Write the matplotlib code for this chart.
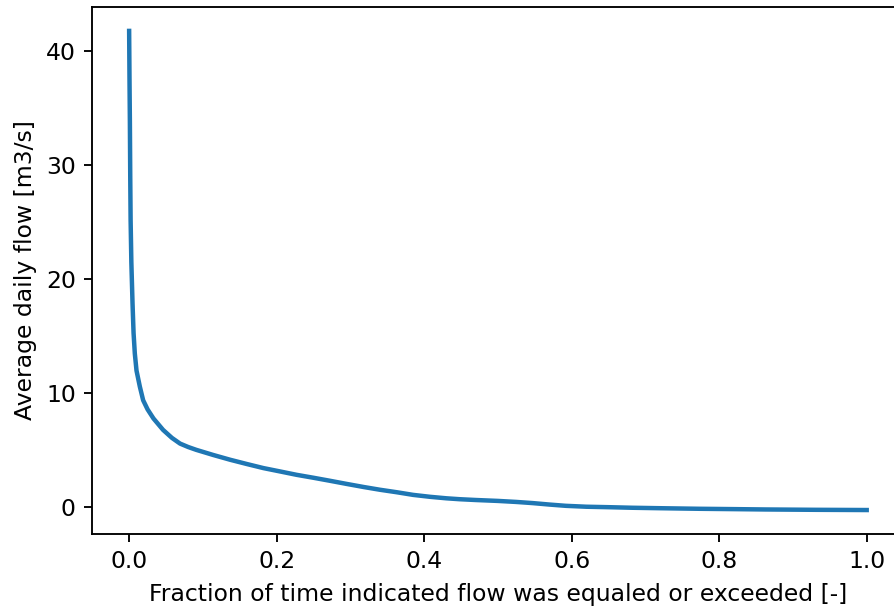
import numpy as np
import matplotlib
matplotlib.use("Agg")
import matplotlib.pyplot as plt

# flow duration curve: exceedance fraction vs average daily flow
exceedance = [0.0, 0.0005, 0.001, 0.0015, 0.002, 0.003, 0.0046, 0.006, 0.0077,
              0.010, 0.0145, 0.019, 0.025, 0.033, 0.046, 0.058, 0.069, 0.080,
              0.091, 0.114, 0.137, 0.16, 0.182, 0.205, 0.227, 0.25, 0.272,
              0.295, 0.318, 0.34, 0.363, 0.385, 0.408, 0.43, 0.448, 0.47, 0.50,
              0.525, 0.547, 0.57, 0.592, 0.62, 0.65, 0.682, 0.72, 0.773, 0.82,
              0.863, 0.93, 1.0]
flow = [41.8, 37.5, 33.9, 29.0, 25.2, 21.5, 17.9, 15.3, 13.5,
        12.0, 10.6, 9.4, 8.6, 7.8, 6.8, 6.1, 5.6, 5.3,
        5.05, 4.6, 4.18, 3.8, 3.45, 3.15, 2.86, 2.6, 2.34,
        2.06, 1.79, 1.55, 1.33, 1.1, 0.93, 0.8, 0.72, 0.65, 0.57,
        0.48, 0.38, 0.25, 0.14, 0.06, 0.02, -0.03, -0.07, -0.12, -0.15,
        -0.18, -0.21, -0.23]

DPI = 169
fig = plt.figure(figsize=(894/DPI, 610/DPI), dpi=DPI)
ax = fig.add_axes([0.1032, 0.1246, 0.9075, 0.864])

ax.plot(exceedance, flow, color='#1f77b4', lw=1.9)
ax.set_xlabel('Fraction of time indicated flow was equaled or exceeded [-]')
ax.set_ylabel('Average daily flow [m3/s]')

fig.savefig('out.png', dpi=DPI)
